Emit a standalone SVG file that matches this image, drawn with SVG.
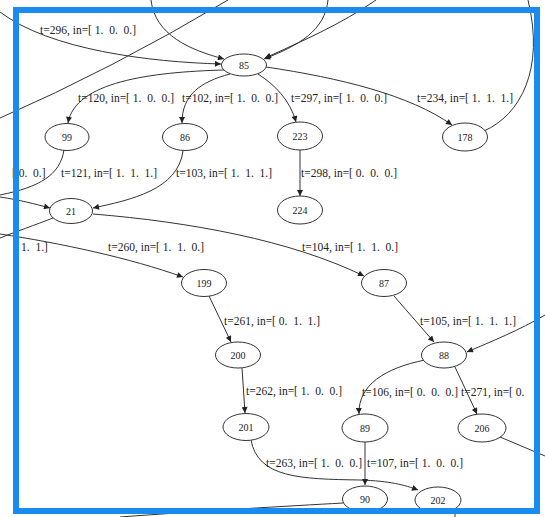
<svg xmlns="http://www.w3.org/2000/svg" width="545" height="517" viewBox="0 0 545 517">
<style>
.e{fill:none;stroke:#333;stroke-width:1}
.a{marker-end:url(#ah)}
.n ellipse{fill:#fff;stroke:#333;stroke-width:1}
.n text{font-family:"Liberation Serif",serif;font-size:10px;fill:#222;text-anchor:middle}
.l{font-family:"Liberation Serif",serif;font-size:11.5px;fill:#222;white-space:pre}
</style>
<defs>
<marker id="ah" viewBox="0 0 10 10" refX="10" refY="5" markerWidth="8" markerHeight="6" orient="auto" markerUnits="userSpaceOnUse"><path d="M0,0 L10,5 L0,10 z" fill="#222"/></marker>
</defs>
<rect width="545" height="517" fill="#fff"/>
<g id="connectors">
<path class="e a" d="M0 12 C50 50 150 62 221 64"/>
<path class="e" d="M0 118 Q110 70 228 0"/>
<path class="e a" d="M151 0 C155 35 190 50 224 59"/>
<path class="e a" d="M328 0 C325 30 300 45 264 59"/>
<path class="e a" d="M376 0 C340 25 300 42 265 58"/>
<path class="e a" d="M224 70 C150 72 75 82 68 123"/>
<path class="e a" d="M230 74 C200 82 182 95 182 123"/>
<path class="e a" d="M258 74 C275 85 290 100 296 122"/>
<path class="e a" d="M266 67 C340 78 410 95 452 125"/>
<path class="e" d="M484 131 C520 115 545 70 528 0"/>
<path class="e a" d="M300 150 L300 196"/>
<path class="e" d="M64 150 C60 175 40 187 0 195"/>
<path class="e a" d="M0 197 C20 200 35 204 50 208"/>
<path class="e" d="M53 218 C35 225 15 232 0 238"/>
<path class="e a" d="M0 234 C60 243 130 258 183 277"/>
<path class="e a" d="M183 151 C178 190 130 200 93 208"/>
<path class="e a" d="M93 214 C190 222 290 240 364 276"/>
<path class="e a" d="M209 296 L231 342"/>
<path class="e a" d="M242 368 L245 413"/>
<path class="e a" d="M251 440 C258 478 300 479 360 480 C390 481 405 485 418 490"/>
<path class="e a" d="M394 296 L434 342"/>
<path class="e a" d="M545 315 C520 330 490 342 467 352"/>
<path class="e a" d="M425 360 C385 368 358 385 359 414"/>
<path class="e a" d="M455 367 L477 414"/>
<path class="e a" d="M365 442 L365 485"/>
<path class="e" d="M500 437 L545 456"/>
<path class="e" d="M343 503 C290 506 200 511 120 517"/>
<path class="e" d="M455 512 L455 517"/>
</g>
<g id="n85" class="n"><ellipse cx="244" cy="65" rx="22.5" ry="11"/><text x="244" y="68.5">85</text></g>
<g id="n99" class="n"><ellipse cx="67" cy="137" rx="22" ry="13.5"/><text x="67" y="140.5">99</text></g>
<g id="n86" class="n"><ellipse cx="185" cy="137" rx="22.5" ry="13.5"/><text x="185" y="140.5">86</text></g>
<g id="n223" class="n"><ellipse cx="300" cy="136" rx="22.5" ry="14"/><text x="300" y="139.5">223</text></g>
<g id="n178" class="n"><ellipse cx="465" cy="137" rx="22.5" ry="14"/><text x="465" y="140.5">178</text></g>
<g id="n224" class="n"><ellipse cx="300" cy="210" rx="22.5" ry="14"/><text x="300" y="213.5">224</text></g>
<g id="n21" class="n"><ellipse cx="71" cy="211" rx="21.5" ry="12.5"/><text x="71" y="214.5">21</text></g>
<g id="n199" class="n"><ellipse cx="204" cy="283" rx="22.5" ry="13.5"/><text x="204" y="286.5">199</text></g>
<g id="n87" class="n"><ellipse cx="384" cy="283" rx="22.5" ry="13.5"/><text x="384" y="286.5">87</text></g>
<g id="n200" class="n"><ellipse cx="238" cy="355" rx="22.5" ry="13"/><text x="238" y="358.5">200</text></g>
<g id="n88" class="n"><ellipse cx="444" cy="355" rx="22.5" ry="13"/><text x="444" y="358.5">88</text></g>
<g id="n201" class="n"><ellipse cx="246" cy="427" rx="23" ry="13.5"/><text x="246" y="430.5">201</text></g>
<g id="n89" class="n"><ellipse cx="365" cy="428" rx="23" ry="14"/><text x="365" y="431.5">89</text></g>
<g id="n206" class="n"><ellipse cx="482" cy="428" rx="24" ry="14"/><text x="482" y="431.5">206</text></g>
<g id="n90" class="n"><ellipse cx="365" cy="499" rx="22.5" ry="13"/><text x="365" y="502.5">90</text></g>
<g id="n202" class="n"><ellipse cx="438" cy="500" rx="23" ry="13"/><text x="438" y="503.5">202</text></g>
<g id="labels">
<text class="l" x="40" y="34">t=296, in=[ 1.  0.  0.]</text>
<text class="l" x="78" y="102">t=120, in=[ 1.  0.  0.]</text>
<text class="l" x="182" y="102">t=102, in=[ 1.  0.  0.]</text>
<text class="l" x="291" y="102">t=297, in=[ 1.  0.  0.]</text>
<text class="l" x="417" y="102">t=234, in=[ 1.  1.  1.]</text>
<text class="l" x="12" y="177">[ 0.  0.]</text>
<text class="l" x="61" y="177">t=121, in=[ 1.  1.  1.]</text>
<text class="l" x="176" y="177">t=103, in=[ 1.  1.  1.]</text>
<text class="l" x="301" y="177">t=298, in=[ 0.  0.  0.]</text>
<text class="l" x="21" y="251">1.  1.]</text>
<text class="l" x="108" y="251">t=260, in=[ 1.  1.  0.]</text>
<text class="l" x="302" y="251">t=104, in=[ 1.  1.  0.]</text>
<text class="l" x="224" y="325">t=261, in=[ 0.  1.  1.]</text>
<text class="l" x="420" y="325">t=105, in=[ 1.  1.  1.]</text>
<text class="l" x="246" y="395">t=262, in=[ 1.  0.  0.]</text>
<text class="l" x="362" y="396">t=106, in=[ 0.  0.  0.]</text>
<text class="l" x="461" y="396">t=271, in=[ 0.</text>
<text class="l" x="266" y="467">t=263, in=[ 1.  0.  0.]</text>
<text class="l" x="367" y="467">t=107, in=[ 1.  0.  0.]</text>
</g>
<rect x="16" y="10" width="521" height="501" fill="none" stroke="#1a8cf0" stroke-width="6"/>
</svg>
